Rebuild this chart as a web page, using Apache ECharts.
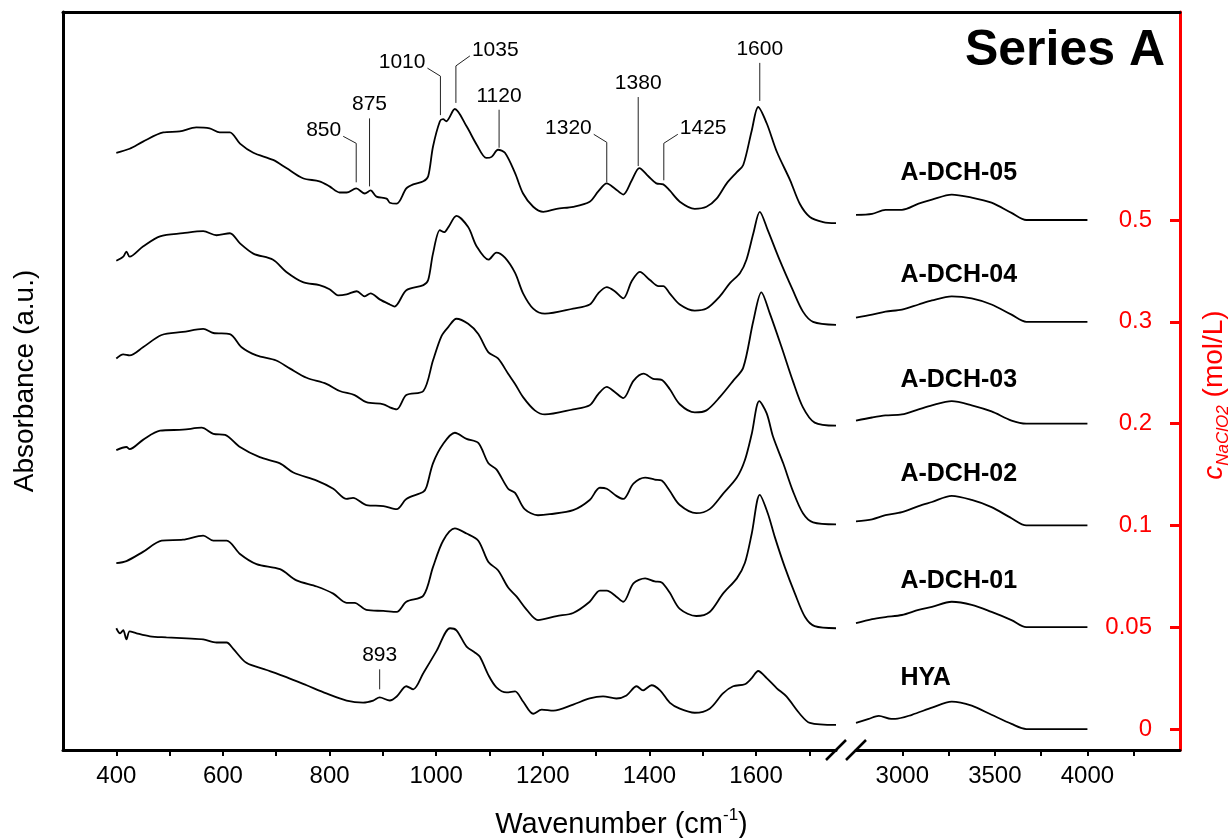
<!DOCTYPE html>
<html><head><meta charset="utf-8">
<script src="https://cdn.jsdelivr.net/npm/echarts@6/dist/echarts.min.js"></script>
<style>html,body{margin:0;padding:0;background:#fff}#c{width:1230px;height:838px}</style>
</head><body><div id="c"></div>
<script>
// ---------------- DATA ----------------
const sampleNames = ['HYA', 'A-DCH-01', 'A-DCH-02', 'A-DCH-03', 'A-DCH-04', 'A-DCH-05'];
const concLabels = ['0', '0.05', '0.1', '0.2', '0.3', '0.5'];   // c NaClO2 (mol/L)
const stackOffsets = [0, 1, 2, 3, 4, 5];
const lowTicks = [400, 500, 600, 700, 800, 900, 1000, 1100, 1200, 1300, 1400, 1500, 1600, 1700];
const lowLabels = [400, 600, 800, 1000, 1200, 1400, 1600];
const highTicks = [3000, 3250, 3500, 3750, 4000, 4250];
const highLabels = [3000, 3500, 4000];

// fingerprint region 400-1750 cm-1 : [wavenumber, absorbance]
const HYA_fp = [[400,0.99],[407,0.94],[413,0.97],[419,0.88],[425,0.96],[438,0.94],[463,0.91],[494,0.90],[532,0.89],[563,0.88],[588,0.85],[607,0.85],[619,0.79],[644,0.65],[682,0.58],[719,0.51],[757,0.43],[794,0.35],[832,0.28],[863,0.26],[882,0.28],[894,0.31],[913,0.28],[926,0.32],[944,0.42],[957,0.39],[976,0.55],[1001,0.77],[1026,0.99],[1038,0.97],[1057,0.81],[1073,0.75],[1082,0.71],[1098,0.53],[1113,0.41],[1132,0.36],[1148,0.37],[1163,0.27],[1182,0.15],[1198,0.19],[1220,0.18],[1257,0.24],[1288,0.30],[1313,0.32],[1338,0.30],[1357,0.33],[1376,0.42],[1388,0.38],[1404,0.43],[1420,0.38],[1438,0.26],[1457,0.20],[1485,0.16],[1513,0.20],[1538,0.35],[1557,0.42],[1579,0.44],[1592,0.50],[1604,0.57],[1620,0.50],[1639,0.40],[1657,0.32],[1682,0.15],[1701,0.06],[1750,0.04]];
const DCH01_fp = [[400,0.63],[419,0.65],[450,0.74],[485,0.85],[525,0.86],[563,0.90],[582,0.85],[607,0.85],[632,0.72],[663,0.62],[707,0.57],[738,0.46],[776,0.40],[807,0.33],[832,0.24],[847,0.24],[869,0.17],[901,0.16],[926,0.15],[944,0.25],[976,0.31],[994,0.59],[1013,0.85],[1035,0.97],[1057,0.92],[1079,0.85],[1098,0.64],[1116,0.56],[1135,0.39],[1151,0.30],[1170,0.17],[1191,0.07],[1226,0.11],[1257,0.14],[1288,0.25],[1307,0.36],[1320,0.36],[1338,0.30],[1351,0.25],[1370,0.43],[1392,0.48],[1410,0.45],[1423,0.44],[1438,0.34],[1457,0.18],[1488,0.11],[1513,0.15],[1538,0.33],[1564,0.48],[1579,0.63],[1592,0.92],[1607,1.30],[1622,1.12],[1635,0.89],[1654,0.59],[1673,0.33],[1692,0.10],[1710,0.01],[1750,-0.01]];
const DCH02_fp = [[400,0.74],[419,0.77],[425,0.75],[450,0.84],[482,0.93],[525,0.94],[560,0.96],[582,0.90],[604,0.89],[632,0.77],[669,0.67],[707,0.61],[732,0.52],[776,0.44],[807,0.36],[832,0.26],[844,0.27],[869,0.20],[901,0.19],[926,0.16],[944,0.26],[976,0.33],[982,0.38],[994,0.61],[1013,0.80],[1035,0.91],[1057,0.85],[1079,0.81],[1098,0.61],[1113,0.55],[1135,0.36],[1148,0.32],[1166,0.16],[1191,0.10],[1213,0.11],[1257,0.15],[1288,0.25],[1307,0.37],[1320,0.36],[1338,0.29],[1351,0.26],[1370,0.41],[1392,0.47],[1410,0.45],[1423,0.44],[1438,0.34],[1457,0.20],[1488,0.12],[1513,0.16],[1538,0.31],[1564,0.47],[1579,0.64],[1592,0.90],[1606,1.22],[1620,1.10],[1632,0.87],[1651,0.61],[1669,0.34],[1688,0.12],[1707,0.03],[1750,0.01]];
const DCH03_fp = [[400,0.64],[413,0.68],[425,0.67],[450,0.75],[485,0.87],[525,0.90],[563,0.93],[582,0.89],[613,0.88],[635,0.75],[663,0.67],[700,0.62],[726,0.54],[757,0.45],[794,0.39],[819,0.32],[847,0.28],[869,0.21],[901,0.19],[913,0.16],[926,0.14],[944,0.28],[976,0.32],[994,0.62],[1010,0.86],[1023,0.95],[1038,1.03],[1060,0.98],[1079,0.88],[1098,0.70],[1116,0.64],[1135,0.49],[1148,0.39],[1163,0.26],[1185,0.13],[1204,0.09],[1257,0.14],[1288,0.18],[1304,0.29],[1320,0.36],[1335,0.31],[1351,0.25],[1370,0.42],[1389,0.49],[1407,0.44],[1423,0.43],[1438,0.34],[1457,0.19],[1485,0.11],[1507,0.13],[1532,0.26],[1557,0.42],[1576,0.55],[1595,1.01],[1610,1.29],[1626,1.08],[1648,0.75],[1669,0.42],[1688,0.16],[1710,0.01],[1750,-0.02]];
const DCH04_fp = [[400,0.60],[413,0.64],[419,0.69],[425,0.64],[450,0.74],[482,0.84],[525,0.87],[563,0.89],[588,0.85],[613,0.87],[632,0.77],[657,0.67],[694,0.61],[719,0.49],[750,0.39],[781,0.36],[800,0.32],[816,0.26],[832,0.27],[851,0.30],[866,0.25],[877,0.28],[894,0.22],[913,0.17],[922,0.15],[944,0.31],[976,0.36],[985,0.41],[994,0.67],[1007,0.90],[1015,0.88],[1023,0.93],[1038,1.04],[1060,0.93],[1076,0.74],[1098,0.61],[1113,0.68],[1129,0.63],[1148,0.48],[1163,0.28],[1182,0.13],[1204,0.08],[1257,0.13],[1288,0.17],[1304,0.28],[1320,0.34],[1335,0.30],[1351,0.23],[1367,0.40],[1382,0.49],[1401,0.41],[1417,0.35],[1426,0.35],[1438,0.28],[1457,0.17],[1485,0.11],[1507,0.13],[1532,0.25],[1551,0.38],[1570,0.48],[1582,0.61],[1595,0.87],[1607,1.08],[1622,0.90],[1644,0.61],[1669,0.31],[1688,0.10],[1707,0.00],[1750,-0.03]];
const DCH05_fp = [[400,0.66],[425,0.70],[450,0.77],[488,0.86],[519,0.87],[550,0.91],[575,0.90],[594,0.86],[613,0.86],[632,0.75],[657,0.66],[694,0.59],[719,0.51],[750,0.41],[781,0.38],[800,0.33],[819,0.27],[832,0.27],[850,0.31],[866,0.26],[877,0.29],[888,0.23],[907,0.21],[913,0.17],[926,0.16],[944,0.31],[957,0.35],[976,0.38],[985,0.43],[994,0.72],[1007,0.97],[1013,0.99],[1019,0.97],[1035,1.09],[1057,0.92],[1076,0.74],[1094,0.61],[1104,0.62],[1116,0.69],[1129,0.66],[1148,0.46],[1163,0.26],[1182,0.13],[1201,0.08],[1226,0.11],[1257,0.13],[1288,0.18],[1304,0.28],[1320,0.36],[1335,0.31],[1351,0.25],[1367,0.39],[1381,0.51],[1398,0.43],[1413,0.36],[1426,0.35],[1438,0.29],[1457,0.18],[1485,0.11],[1507,0.13],[1526,0.21],[1545,0.36],[1564,0.47],[1576,0.54],[1592,0.88],[1604,1.11],[1620,0.95],[1639,0.67],[1664,0.39],[1682,0.16],[1701,0.03],[1726,-0.02],[1750,-0.03]];

// high-wavenumber region 2750-4000 cm-1
const HYA_oh = [[2750,0.06],[2819,0.10],[2873,0.13],[2940,0.10],[2962,0.10],[3052,0.14],[3160,0.21],[3267,0.27],[3375,0.23],[3482,0.14],[3590,0.05],[3670,0.00],[3800,0.00],[4000,0.00]];
const DCH01_oh = [[2750,0.04],[2837,0.08],[2909,0.10],[2998,0.12],[3088,0.17],[3160,0.20],[3267,0.25],[3375,0.22],[3482,0.15],[3590,0.07],[3670,0.00],[3800,0.00],[4000,0.00]];
const DCH02_oh = [[2750,0.04],[2837,0.06],[2909,0.10],[2998,0.13],[3088,0.19],[3160,0.23],[3267,0.29],[3375,0.25],[3482,0.18],[3590,0.07],[3670,0.00],[3800,0.00],[4000,0.00]];
const DCH03_oh = [[2750,0.03],[2837,0.06],[2909,0.08],[2998,0.09],[3088,0.14],[3160,0.18],[3267,0.22],[3375,0.18],[3482,0.12],[3590,0.03],[3670,0.00],[3800,0.00],[4000,0.00]];
const DCH04_oh = [[2750,0.04],[2837,0.07],[2909,0.10],[2998,0.12],[3088,0.17],[3160,0.21],[3267,0.25],[3375,0.23],[3482,0.17],[3590,0.07],[3670,0.00],[3800,0.00],[4000,0.00]];
const DCH05_oh = [[2750,0.05],[2837,0.06],[2909,0.10],[2998,0.10],[3088,0.16],[3160,0.20],[3267,0.25],[3375,0.22],[3482,0.17],[3590,0.07],[3670,0.00],[3800,0.00],[4000,0.00]];

// peak annotations
const peakText   = ['850', '875', '1010', '1035', '1120', '1320', '1380', '1425', '1600', '893'];
const peakWn     = [850, 875, 1008, 1037, 1118, 1320, 1379, 1427, 1607, 894];
const peakSample = [5, 5, 5, 5, 5, 5, 5, 5, 5, 0];
const peakAbs    = [0.37, 0.33, 1.03, 1.15, 0.71, 0.37, 0.53, 0.39, 1.17, 0.39];

// ---------------- LAYOUT / STYLE ----------------
const FONT = 'Arial, "Liberation Sans", Helvetica, sans-serif';
const Y_MIN = -0.206, Y_MAX = 7.043;
const nameWn = 2990;
const nameLift = [0.50, 0.45, 0.50, 0.43, 0.46, 0.46];
// leader geometry in px: rise above tip, bend dx/dy (0 = straight)
const peakLayout = [
  {rise:39, dx:-13, dy:-7}, {rise:68, dx:0, dy:0}, {rise:39, dx:-13, dy:-8}, {rise:37, dx:14, dy:-10},
  {rise:38, dx:0, dy:0}, {rise:40, dx:-13, dy:-8}, {rise:69, dx:0, dy:0}, {rise:37, dx:14, dy:-9},
  {rise:38, dx:0, dy:0}, {rise:20, dx:0, dy:0}
];

const fpSets = [HYA_fp, DCH01_fp, DCH02_fp, DCH03_fp, DCH04_fp, DCH05_fp];
const ohSets = [HYA_oh, DCH01_oh, DCH02_oh, DCH03_oh, DCH04_oh, DCH05_oh];

const series = [];
fpSets.forEach((arr, i) => {
  series.push({
    type: 'line', xAxisIndex: 0, yAxisIndex: 0, symbol: 'none', smooth: 0.3, silent: true,
    data: arr.map(p => [p[0], p[1] + stackOffsets[i]]),
    lineStyle: { color: '#000', width: 1.8 }
  });
});
ohSets.forEach((arr, i) => {
  series.push({
    type: 'line', xAxisIndex: 1, yAxisIndex: 1, symbol: 'none', smooth: 0.3, silent: true,
    data: arr.map(p => [p[0], p[1] + stackOffsets[i]]),
    lineStyle: { color: '#000', width: 1.8 }
  });
});
series.push({
  type: 'custom', xAxisIndex: 0, yAxisIndex: 0, clip: false, silent: true, z: 5,
  encode: { x: 0, y: 1 },
  data: peakWn.map((w, k) => [w, peakAbs[k] + stackOffsets[peakSample[k]]]),
  renderItem(params, api) {
    const k = params.dataIndex, L = peakLayout[k];
    const p0 = api.coord([api.value(0), api.value(1)]);
    const p1 = [p0[0], p0[1] - L.rise];
    const pts = [p0, p1];
    let tx, ty, align;
    if (L.dx) {
      const p2 = [p1[0] + L.dx, p1[1] + L.dy];
      pts.push(p2);
      align = L.dx < 0 ? 'right' : 'left';
      tx = p2[0] + (L.dx < 0 ? -2 : 2);
      ty = p2[1] - 6;
    } else {
      align = 'center'; tx = p1[0]; ty = p1[1] - 14;
    }
    return { type: 'group', children: [
      { type: 'polyline', shape: { points: pts }, style: { stroke: '#222', lineWidth: 1, fill: null } },
      { type: 'text', x: tx, y: ty, style: { text: peakText[k], fill: '#000', font: '21px ' + FONT, align: align, verticalAlign: 'middle' } }
    ]};
  }
});
series.push({
  type: 'custom', xAxisIndex: 1, yAxisIndex: 1, clip: false, silent: true, z: 5,
  encode: { x: 0, y: 1 },
  data: sampleNames.map((n, i) => [nameWn, stackOffsets[i] + nameLift[i]]),
  renderItem(params, api) {
    const p = api.coord([api.value(0), api.value(1)]);
    return { type: 'text', x: p[0], y: p[1], style: { text: sampleNames[params.dataIndex], fill: '#000', font: 'bold 25px ' + FONT, align: 'left', verticalAlign: 'middle' } };
  }
});

const chart = echarts.init(document.getElementById('c'));
const blackLine = () => ({ show: true, onZero: false, lineStyle: { color: '#000', width: 3 } });
const plain = v => String(v);
chart.setOption({
  animation: false,
  backgroundColor: '#fff',
  textStyle: { fontFamily: FONT },
  title: { text: 'Series A', right: 65, top: 26, padding: 0, textStyle: { fontSize: 50, fontWeight: 'bold', color: '#000', fontFamily: FONT } },
  grid: [
    { left: 63, top: 12, width: 773, height: 738, containLabel: false, outerBoundsMode: 'none' },
    { left: 856, top: 12, width: 324, height: 738, containLabel: false, outerBoundsMode: 'none' },
    { left: 63, top: 12, width: 1117, height: 738, containLabel: false, outerBoundsMode: 'none' }
  ],
  xAxis: [
    { gridIndex: 0, type: 'value', min: 300, max: 1750, position: 'bottom', axisLine: blackLine(),
      axisTick: { show: true, customValues: lowTicks, length: 6, lineStyle: { color: '#000', width: 2 } },
      axisLabel: { customValues: lowLabels, formatter: plain, fontSize: 24, color: '#000', margin: 14, fontFamily: FONT },
      splitLine: { show: false } },
    { gridIndex: 1, type: 'value', min: 2750, max: 4500, position: 'bottom', axisLine: blackLine(),
      axisTick: { show: true, customValues: highTicks, length: 6, lineStyle: { color: '#000', width: 2 } },
      axisLabel: { customValues: highLabels, formatter: plain, fontSize: 24, color: '#000', margin: 14, fontFamily: FONT },
      splitLine: { show: false } },
    { gridIndex: 2, type: 'value', min: 0, max: 1, position: 'top', axisLine: blackLine(),
      axisTick: { show: false }, axisLabel: { show: false }, splitLine: { show: false } },
    { gridIndex: 2, type: 'value', min: 0, max: 1, position: 'bottom', axisLine: { show: false, onZero: false },
      axisTick: { show: false }, axisLabel: { show: false }, splitLine: { show: false },
      name: '{t|Wavenumber (cm}{s|-1}{t|)}', nameLocation: 'middle', nameGap: 57,
      nameTextStyle: { rich: {
        t: { fontSize: 29, color: '#000', fontFamily: FONT, lineHeight: 32, verticalAlign: 'bottom' },
        s: { fontSize: 17, color: '#000', fontFamily: FONT, lineHeight: 32, verticalAlign: 'top' } } } }
  ],
  yAxis: [
    { gridIndex: 0, type: 'value', min: Y_MIN, max: Y_MAX, show: false, axisLine: { onZero: false } },
    { gridIndex: 1, type: 'value', min: Y_MIN, max: Y_MAX, show: false, axisLine: { onZero: false } },
    { gridIndex: 2, type: 'value', min: Y_MIN, max: Y_MAX, position: 'left', axisLine: blackLine(),
      axisTick: { show: false }, axisLabel: { show: false }, splitLine: { show: false },
      name: 'Absorbance (a.u.)', nameLocation: 'middle', nameGap: 24,
      nameTextStyle: { fontSize: 28, color: '#000', fontFamily: FONT } },
    { gridIndex: 2, type: 'value', min: Y_MIN, max: Y_MAX, position: 'right',
      axisLine: { show: true, onZero: false, lineStyle: { color: '#ff0000', width: 3 } },
      axisTick: { show: true, inside: true, length: 10, customValues: stackOffsets, lineStyle: { color: '#ff0000', width: 3 } },
      axisLabel: { show: true, inside: true, margin: 28, customValues: stackOffsets, color: '#ff0000', fontSize: 24, fontFamily: FONT,
        formatter: v => concLabels[Math.round(v)] },
      splitLine: { show: false },
      name: '{c|c}{s|NaClO2}{t| (mol/L)}', nameLocation: 'middle', nameGap: 20, nameRotate: 90,
      nameTextStyle: { color: '#ff0000', padding: [0, 28, 0, 0], rich: {
        c: { fontSize: 28, color: '#ff0000', fontStyle: 'italic', fontFamily: FONT, lineHeight: 32, verticalAlign: 'top' },
        s: { fontSize: 17, color: '#ff0000', fontStyle: 'italic', fontFamily: FONT, lineHeight: 32, verticalAlign: 'bottom' },
        t: { fontSize: 28, color: '#ff0000', fontFamily: FONT, lineHeight: 32, verticalAlign: 'top' } } } }
  ],
  series: series
});

// axis-break marks, positioned from the axes themselves
const pa = chart.convertToPixel({ gridIndex: 0 }, [1750, Y_MIN]);
const pb = chart.convertToPixel({ gridIndex: 1 }, [2750, Y_MIN]);
chart.setOption({
  graphic: [pa, pb].map(p => ({
    type: 'line', z: 100,
    shape: { x1: p[0] - 10, y1: p[1] + 10, x2: p[0] + 10, y2: p[1] - 10 },
    style: { stroke: '#000', lineWidth: 2.5 }
  }))
});
</script>
</body></html>
